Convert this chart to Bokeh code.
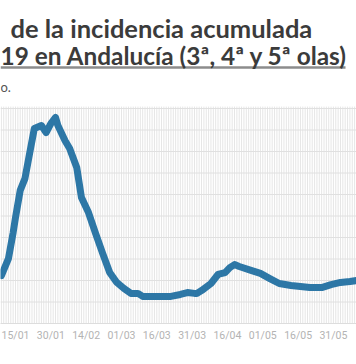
from bokeh.plotting import figure
from bokeh.models import Range1d, FixedTicker, Label
from bokeh.embed import file_html
from bokeh.resources import INLINE

# ---- data (day index, 0 = 15/01) ----
dias = [-6, -3, -1, 0, 2, 4, 6, 8, 11, 13, 15, 17, 18, 21, 23, 26, 28, 31, 34, 37,
        40, 43, 46, 49, 52, 54, 60, 66, 70, 73, 76, 77, 79, 83, 86, 89, 91, 93, 95,
        100, 104, 108, 112, 117, 121, 125, 130, 134, 138, 142, 145]
ia = [223, 302, 423, 493, 619, 674, 791, 907, 921, 888, 930, 958, 921, 851, 814, 726,
      586, 516, 419, 326, 237, 191, 163, 140, 140, 126, 126, 126, 135, 144, 140, 140,
      153, 186, 228, 237, 260, 274, 265, 247, 233, 209, 186, 177, 172, 167, 167, 181,
      191, 195, 200]
tick_dias = [0, 15, 30, 45, 60, 75, 90, 105, 120, 135]
tick_labels = ["15/01", "30/01", "14/02", "01/03", "16/03", "31/03", "16/04",
               "01/05", "16/05", "31/05"]
y_grid_vals = [100, 200, 300, 400, 500, 600, 700, 800, 900, 1000]

titulo1 = "de la incidencia acumulada"
titulo2 = "19 en Andalucía (3ª, 4ª y 5ª olas)"
subtitulo = "o."

# ---- layout constants ----
W, H = 356, 364
BOTTOM = 41
X0, X1 = -6.37, 144.8
FRAME_H = H - BOTTOM
PX_PER_UNIT = 0.215
Y1 = FRAME_H / PX_PER_UNIT
GRID_TOP = 1009


def ydata(fig_y):
    return (FRAME_H - fig_y) / PX_PER_UNIT


def xdata(fig_x):
    return X0 + fig_x * (X1 - X0) / W


p = figure(width=W, height=H, output_backend="svg", toolbar_location=None,
           x_range=Range1d(X0, X1), y_range=Range1d(0, Y1),
           min_border_left=0, min_border_right=0, min_border_top=0,
           min_border_bottom=BOTTOM)
p.outline_line_color = None
p.background_fill_color = "white"
p.border_fill_color = "white"
p.xgrid.visible = False
p.ygrid.visible = False
p.yaxis.visible = False

# daily vertical grid
vx = [d for d in range(-6, 146)]
p.segment(x0=vx, y0=[0] * len(vx), x1=vx, y1=[GRID_TOP] * len(vx),
          line_color="#e6e6e6", line_width=1)
# horizontal grid
p.segment(x0=[X0] * len(y_grid_vals), y0=y_grid_vals, x1=[X1] * len(y_grid_vals),
          y1=y_grid_vals, line_color="#e0e0e0", line_width=1)

# data line
p.line(dias, ia, line_color="#2d77a6", line_width=7, line_join="round",
       line_cap="round")

# axis
ax = p.xaxis[0]
ax.ticker = FixedTicker(ticks=tick_dias)
ax.major_label_overrides = {d: l for d, l in zip(tick_dias, tick_labels)}
ax.major_tick_line_color = None
ax.minor_tick_line_color = None
ax.major_tick_out = 0
ax.major_tick_in = 0
ax.axis_line_color = "#dddddd"
ax.major_label_text_color = "#b3b3b3"
ax.major_label_text_font = "Roboto"
ax.major_label_text_font_size = "10.5px"
ax.major_label_standoff = 5

# titles
p.add_layout(Label(x=xdata(10), y=ydata(27), text=titulo1, text_font="Lato",
                   text_font_style="bold", text_font_size="25.5px",
                   text_color="#3b3b3b", text_baseline="alphabetic"))
p.add_layout(Label(x=xdata(0), y=ydata(55), text=titulo2, text_font="Lato",
                   text_font_style="bold", text_font_size="24.4px",
                   text_color="#3b3b3b", text_baseline="alphabetic"))
# rule
p.segment(x0=[xdata(0)], y0=[ydata(67)], x1=[xdata(345)], y1=[ydata(67)],
          line_color="#8c8c8c", line_width=2.5)
p.add_layout(Label(x=xdata(0), y=ydata(86), text=subtitulo, text_font="Lato",
                   text_font_size="13px", text_color="#555555",
                   text_baseline="alphabetic"))

open("out.html", "w").write(file_html(p, INLINE))
